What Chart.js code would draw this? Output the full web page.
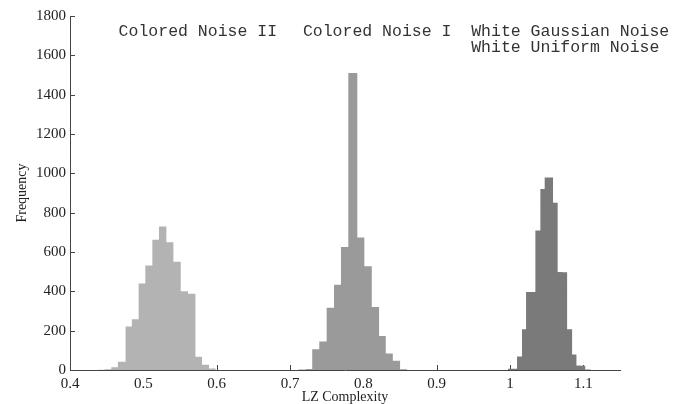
<!DOCTYPE html>
<html>
<head>
<meta charset="utf-8">
<script src="https://cdn.jsdelivr.net/npm/chart.js@4"></script>
<style>
    body { margin: 0; background: #fff; }
</style>
</head>
<body>
<canvas id="lzChart" width="683" height="404"></canvas>
<script>
// bin left edges (last value = right edge of last bin) and counts per bin
const cn2Edges = [0.4376, 0.4471, 0.4563, 0.4653, 0.4758, 0.4844, 0.4936, 0.5027, 0.5123, 0.5213, 0.5314, 0.5410, 0.5510, 0.5609, 0.5710, 0.5801, 0.5896, 0.5988];
const cn2Counts = [1, 4, 14, 42, 221, 258, 440, 531, 662, 730, 650, 550, 401, 388, 67, 27, 8];

const cn1Edges = [0.7112, 0.7217, 0.7303, 0.7399, 0.7500, 0.7600, 0.7695, 0.7795, 0.7918, 0.8014, 0.8115, 0.8215, 0.8306, 0.8402, 0.8501, 0.8597];
const cn1Counts = [2, 5, 106, 145, 317, 433, 625, 1510, 674, 527, 320, 173, 84, 47, 4];

const wgnEdges = [0.9969, 1.0096, 1.0219, 1.0346, 1.0473, 1.0587, 1.0717, 1.0847, 1.0974, 1.1101];
const wgnCounts = [6, 69, 396, 709, 979, 497, 207, 22, 2];

const wunEdges = [1.0041, 1.0164, 1.0291, 1.0414, 1.0533, 1.0650, 1.0779, 1.0906, 1.1029];
const wunCounts = [5, 207, 380, 920, 851, 497, 79, 22];

const xTicks = [0.4, 0.5, 0.6, 0.7, 0.8, 0.9, 1, 1.1];
const yTicks = [0, 200, 400, 600, 800, 1000, 1200, 1400, 1600, 1800];

function histPoints(edges, counts) {
    var pts = counts.map(function (c, i) { return { x: edges[i], y: c }; });
    pts.push({ x: edges[edges.length - 1], y: 0 });
    return pts;
}

function histDataset(label, edges, counts, color, labelAt) {
    return {
        label: label,
        data: histPoints(edges, counts),
        stepped: true,
        fill: 'origin',
        backgroundColor: color,
        borderColor: color,
        borderWidth: 0,
        pointRadius: 0,
        labelAt: labelAt
    };
}

// small tick marks pointing into the plot, like the original figure
const innerTicks = {
    id: 'innerTicks',
    beforeDatasetsDraw(chart) {
        const ctx = chart.ctx, area = chart.chartArea;
        const xs = chart.scales.x, ys = chart.scales.y;
        ctx.save();
        ctx.strokeStyle = '#444';
        ctx.lineWidth = 1;
        ctx.beginPath();
        xs.ticks.forEach(function (t) {
            var px = Math.round(xs.getPixelForValue(t.value)) + 0.5;
            ctx.moveTo(px, area.bottom);
            ctx.lineTo(px, area.bottom - 5);
        });
        ys.ticks.forEach(function (t) {
            var py = Math.round(ys.getPixelForValue(t.value)) + 0.5;
            ctx.moveTo(area.left, py);
            ctx.lineTo(area.left + 5, py);
        });
        ctx.stroke();
        ctx.restore();
    }
};

// series names written over the plot, in data units
const seriesLabels = {
    id: 'seriesLabels',
    afterDatasetsDraw(chart) {
        const ctx = chart.ctx;
        const xs = chart.scales.x, ys = chart.scales.y;
        ctx.save();
        ctx.font = '16.5px "Liberation Mono", "DejaVu Sans Mono", monospace';
        ctx.fillStyle = '#333';
        ctx.textAlign = 'left';
        ctx.textBaseline = 'middle';
        chart.data.datasets.forEach(function (ds) {
            ctx.fillText(ds.label, xs.getPixelForValue(ds.labelAt[0]), ys.getPixelForValue(ds.labelAt[1]));
        });
        ctx.restore();
    }
};

const serif = '"Liberation Serif", "Times New Roman", serif';

new Chart("lzChart", {
    type: "line",
    data: {
        datasets: [
            histDataset("Colored Noise II", cn2Edges, cn2Counts, "#b3b3b3", [0.4663, 1719]),
            histDataset("Colored Noise I", cn1Edges, cn1Counts, "#9a9a9a", [0.7176, 1719]),
            histDataset("White Gaussian Noise", wgnEdges, wgnCounts, "#7a7a7a", [0.9471, 1719]),
            histDataset("White Uniform Noise", wunEdges, wunCounts, "#7a7a7a", [0.9471, 1638])
        ]
    },
    options: {
        responsive: false,
        animation: false,
        layout: { padding: { left: 15, right: 63, top: 16, bottom: 0 } },
        plugins: {
            legend: { display: false },
            tooltip: { enabled: false }
        },
        scales: {
            x: {
                type: 'linear',
                min: 0.4,
                max: 1.15,
                afterBuildTicks: function (axis) {
                    axis.ticks = xTicks.map(function (v) { return { value: v }; });
                },
                ticks: {
                    color: '#222',
                    font: { family: serif, size: 15, lineHeight: 1 },
                    padding: 7,
                    maxRotation: 0,
                    callback: function (v) { return String(+v.toFixed(2)); }
                },
                grid: { drawOnChartArea: false, drawTicks: false },
                border: { color: '#444', width: 1 },
                title: {
                    display: true,
                    text: 'LZ Complexity',
                    color: '#222',
                    font: { family: serif, size: 14, lineHeight: 1 },
                    padding: { top: -9, bottom: 0 }
                }
            },
            y: {
                min: 0,
                max: 1800,
                afterBuildTicks: function (axis) {
                    axis.ticks = yTicks.map(function (v) { return { value: v }; });
                },
                ticks: {
                    color: '#222',
                    font: { family: serif, size: 15, lineHeight: 1 },
                    padding: 4,
                    callback: function (v) { return String(v); }
                },
                grid: { drawOnChartArea: false, drawTicks: false },
                border: { color: '#444', width: 1 },
                title: {
                    display: true,
                    text: 'Frequency',
                    color: '#222',
                    font: { family: serif, size: 14, lineHeight: 1 },
                    padding: { top: 0, bottom: 3 }
                }
            }
        }
    },
    plugins: [innerTicks, seriesLabels]
});
</script>
</body>
</html>
